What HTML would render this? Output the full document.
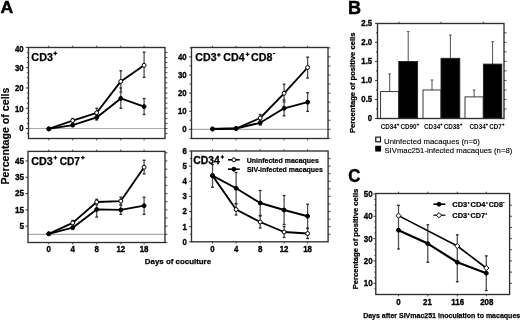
<!DOCTYPE html>
<html><head><meta charset="utf-8"><style>
html,body{margin:0;padding:0;background:#fff;width:520px;height:320px;overflow:hidden}
svg{display:block;filter:grayscale(1) blur(0.25px)}
text{font-family:"Liberation Sans", sans-serif;fill:#000}
</style></head><body>
<svg width="520" height="320" viewBox="0 0 520 320">
<rect width="520" height="320" fill="#fff"/>
<text x="0.56" y="13.25" font-size="16.9" font-weight="bold" text-anchor="start" textLength="12.72" lengthAdjust="spacingAndGlyphs" stroke="#000" stroke-width="0.45">A</text>
<text transform="translate(9.0,136.0) rotate(-90)" font-size="10.0" font-weight="bold" text-anchor="middle" textLength="97.0" stroke="#000" stroke-width="0.15" lengthAdjust="spacingAndGlyphs">Percentage of cells</text>
<line x1="28.50" y1="128.50" x2="165.00" y2="128.50" stroke="#ababab" stroke-width="1.2" />
<line x1="26.90" y1="133.57" x2="28.50" y2="133.57" stroke="#303030" stroke-width="0.9" />
<line x1="26.90" y1="123.43" x2="28.50" y2="123.43" stroke="#303030" stroke-width="0.9" />
<line x1="26.90" y1="118.36" x2="28.50" y2="118.36" stroke="#303030" stroke-width="0.9" />
<line x1="26.90" y1="113.29" x2="28.50" y2="113.29" stroke="#303030" stroke-width="0.9" />
<line x1="26.90" y1="103.16" x2="28.50" y2="103.16" stroke="#303030" stroke-width="0.9" />
<line x1="26.90" y1="98.09" x2="28.50" y2="98.09" stroke="#303030" stroke-width="0.9" />
<line x1="26.90" y1="93.02" x2="28.50" y2="93.02" stroke="#303030" stroke-width="0.9" />
<line x1="26.90" y1="82.88" x2="28.50" y2="82.88" stroke="#303030" stroke-width="0.9" />
<line x1="26.90" y1="77.81" x2="28.50" y2="77.81" stroke="#303030" stroke-width="0.9" />
<line x1="26.90" y1="72.74" x2="28.50" y2="72.74" stroke="#303030" stroke-width="0.9" />
<line x1="26.90" y1="62.61" x2="28.50" y2="62.61" stroke="#303030" stroke-width="0.9" />
<line x1="26.90" y1="57.54" x2="28.50" y2="57.54" stroke="#303030" stroke-width="0.9" />
<line x1="26.90" y1="52.47" x2="28.50" y2="52.47" stroke="#303030" stroke-width="0.9" />
<line x1="25.90" y1="128.50" x2="28.50" y2="128.50" stroke="#303030" stroke-width="1.0" />
<line x1="25.90" y1="108.22" x2="28.50" y2="108.22" stroke="#303030" stroke-width="1.0" />
<line x1="25.90" y1="87.95" x2="28.50" y2="87.95" stroke="#303030" stroke-width="1.0" />
<line x1="25.90" y1="67.68" x2="28.50" y2="67.68" stroke="#303030" stroke-width="1.0" />
<line x1="25.90" y1="47.40" x2="28.50" y2="47.40" stroke="#303030" stroke-width="1.0" />
<line x1="165.00" y1="133.57" x2="167.40" y2="133.57" stroke="#303030" stroke-width="0.9" />
<line x1="165.00" y1="128.50" x2="167.40" y2="128.50" stroke="#303030" stroke-width="0.9" />
<line x1="165.00" y1="123.43" x2="167.40" y2="123.43" stroke="#303030" stroke-width="0.9" />
<line x1="165.00" y1="118.36" x2="167.40" y2="118.36" stroke="#303030" stroke-width="0.9" />
<line x1="165.00" y1="113.29" x2="167.40" y2="113.29" stroke="#303030" stroke-width="0.9" />
<line x1="165.00" y1="108.22" x2="167.40" y2="108.22" stroke="#303030" stroke-width="0.9" />
<line x1="165.00" y1="103.16" x2="167.40" y2="103.16" stroke="#303030" stroke-width="0.9" />
<line x1="165.00" y1="98.09" x2="167.40" y2="98.09" stroke="#303030" stroke-width="0.9" />
<line x1="165.00" y1="93.02" x2="167.40" y2="93.02" stroke="#303030" stroke-width="0.9" />
<line x1="165.00" y1="87.95" x2="167.40" y2="87.95" stroke="#303030" stroke-width="0.9" />
<line x1="165.00" y1="82.88" x2="167.40" y2="82.88" stroke="#303030" stroke-width="0.9" />
<line x1="165.00" y1="77.81" x2="167.40" y2="77.81" stroke="#303030" stroke-width="0.9" />
<line x1="165.00" y1="72.74" x2="167.40" y2="72.74" stroke="#303030" stroke-width="0.9" />
<line x1="165.00" y1="67.68" x2="167.40" y2="67.68" stroke="#303030" stroke-width="0.9" />
<line x1="165.00" y1="62.61" x2="167.40" y2="62.61" stroke="#303030" stroke-width="0.9" />
<line x1="165.00" y1="57.54" x2="167.40" y2="57.54" stroke="#303030" stroke-width="0.9" />
<line x1="165.00" y1="52.47" x2="167.40" y2="52.47" stroke="#303030" stroke-width="0.9" />
<line x1="48.80" y1="45.70" x2="48.80" y2="47.50" stroke="#303030" stroke-width="0.9" />
<line x1="48.80" y1="138.50" x2="48.80" y2="140.30" stroke="#303030" stroke-width="0.9" />
<line x1="72.70" y1="45.70" x2="72.70" y2="47.50" stroke="#303030" stroke-width="0.9" />
<line x1="72.70" y1="138.50" x2="72.70" y2="140.30" stroke="#303030" stroke-width="0.9" />
<line x1="96.70" y1="45.70" x2="96.70" y2="47.50" stroke="#303030" stroke-width="0.9" />
<line x1="96.70" y1="138.50" x2="96.70" y2="140.30" stroke="#303030" stroke-width="0.9" />
<line x1="120.80" y1="45.70" x2="120.80" y2="47.50" stroke="#303030" stroke-width="0.9" />
<line x1="120.80" y1="138.50" x2="120.80" y2="140.30" stroke="#303030" stroke-width="0.9" />
<line x1="144.10" y1="45.70" x2="144.10" y2="47.50" stroke="#303030" stroke-width="0.9" />
<line x1="144.10" y1="138.50" x2="144.10" y2="140.30" stroke="#303030" stroke-width="0.9" />
<text transform="translate(23.70,51.90) scale(1,1.16)" font-size="7.8" font-weight="bold" text-anchor="end" stroke="#000" stroke-width="0.3">40</text>
<text transform="translate(23.70,71.30) scale(1,1.16)" font-size="7.8" font-weight="bold" text-anchor="end" stroke="#000" stroke-width="0.3">30</text>
<text transform="translate(23.70,91.30) scale(1,1.16)" font-size="7.8" font-weight="bold" text-anchor="end" stroke="#000" stroke-width="0.3">20</text>
<text transform="translate(23.70,111.50) scale(1,1.16)" font-size="7.8" font-weight="bold" text-anchor="end" stroke="#000" stroke-width="0.3">10</text>
<text transform="translate(23.70,131.30) scale(1,1.16)" font-size="7.8" font-weight="bold" text-anchor="end" stroke="#000" stroke-width="0.3">0</text>
<line x1="72.70" y1="118.50" x2="72.70" y2="126.50" stroke="#505050" stroke-width="1.3" />
<line x1="71.30" y1="118.50" x2="74.10" y2="118.50" stroke="#2a2a2a" stroke-width="1.3" />
<line x1="71.30" y1="126.50" x2="74.10" y2="126.50" stroke="#2a2a2a" stroke-width="1.3" />
<line x1="96.70" y1="108.30" x2="96.70" y2="116.50" stroke="#505050" stroke-width="1.3" />
<line x1="95.30" y1="108.30" x2="98.10" y2="108.30" stroke="#2a2a2a" stroke-width="1.3" />
<line x1="95.30" y1="116.50" x2="98.10" y2="116.50" stroke="#2a2a2a" stroke-width="1.3" />
<line x1="96.70" y1="114.50" x2="96.70" y2="120.00" stroke="#505050" stroke-width="1.3" />
<line x1="95.30" y1="114.50" x2="98.10" y2="114.50" stroke="#2a2a2a" stroke-width="1.3" />
<line x1="95.30" y1="120.00" x2="98.10" y2="120.00" stroke="#2a2a2a" stroke-width="1.3" />
<line x1="120.80" y1="70.80" x2="120.80" y2="92.00" stroke="#505050" stroke-width="1.3" />
<line x1="119.40" y1="70.80" x2="122.20" y2="70.80" stroke="#2a2a2a" stroke-width="1.3" />
<line x1="119.40" y1="92.00" x2="122.20" y2="92.00" stroke="#2a2a2a" stroke-width="1.3" />
<line x1="120.80" y1="88.00" x2="120.80" y2="108.30" stroke="#505050" stroke-width="1.3" />
<line x1="119.40" y1="88.00" x2="122.20" y2="88.00" stroke="#2a2a2a" stroke-width="1.3" />
<line x1="119.40" y1="108.30" x2="122.20" y2="108.30" stroke="#2a2a2a" stroke-width="1.3" />
<line x1="144.10" y1="52.20" x2="144.10" y2="77.40" stroke="#505050" stroke-width="1.3" />
<line x1="142.70" y1="52.20" x2="145.50" y2="52.20" stroke="#2a2a2a" stroke-width="1.3" />
<line x1="142.70" y1="77.40" x2="145.50" y2="77.40" stroke="#2a2a2a" stroke-width="1.3" />
<line x1="144.10" y1="98.50" x2="144.10" y2="114.50" stroke="#505050" stroke-width="1.3" />
<line x1="142.70" y1="98.50" x2="145.50" y2="98.50" stroke="#2a2a2a" stroke-width="1.3" />
<line x1="142.70" y1="114.50" x2="145.50" y2="114.50" stroke="#2a2a2a" stroke-width="1.3" />
<polyline points="48.80,128.90 72.70,120.60 96.70,112.80 120.80,81.40 144.10,65.30" fill="none" stroke="#000" stroke-width="1.85" stroke-linejoin="round"/>
<polyline points="48.80,128.90 72.70,125.10 96.70,117.40 120.80,98.40 144.10,106.60" fill="none" stroke="#000" stroke-width="1.85" stroke-linejoin="round"/>
<circle cx="48.80" cy="128.90" r="1.95" fill="#fff" stroke="#000" stroke-width="1.0"/>
<circle cx="72.70" cy="120.60" r="1.95" fill="#fff" stroke="#000" stroke-width="1.0"/>
<circle cx="96.70" cy="112.80" r="1.95" fill="#fff" stroke="#000" stroke-width="1.0"/>
<circle cx="120.80" cy="81.40" r="1.95" fill="#fff" stroke="#000" stroke-width="1.0"/>
<circle cx="144.10" cy="65.30" r="1.95" fill="#fff" stroke="#000" stroke-width="1.0"/>
<circle cx="48.80" cy="128.90" r="1.95" fill="#000" stroke="#000" stroke-width="1.0"/>
<circle cx="72.70" cy="125.10" r="1.95" fill="#000" stroke="#000" stroke-width="1.0"/>
<circle cx="96.70" cy="117.40" r="1.95" fill="#000" stroke="#000" stroke-width="1.0"/>
<circle cx="120.80" cy="98.40" r="1.95" fill="#000" stroke="#000" stroke-width="1.0"/>
<circle cx="144.10" cy="106.60" r="1.95" fill="#000" stroke="#000" stroke-width="1.0"/>
<rect x="28.50" y="47.50" width="136.50" height="91.00" fill="none" stroke="#303030" stroke-width="1.35"/>
<text x="31.37" y="60.50" font-size="10.3" font-weight="bold" text-anchor="start" textLength="21.62" lengthAdjust="spacingAndGlyphs" stroke="#000" stroke-width="0.25">CD3</text>
<line x1="53.40" y1="53.40" x2="57.20" y2="53.40" stroke="#000" stroke-width="1.3" />
<line x1="55.30" y1="51.50" x2="55.30" y2="55.30" stroke="#000" stroke-width="1.3" />
<line x1="191.50" y1="129.30" x2="328.00" y2="129.30" stroke="#ababab" stroke-width="1.2" />
<line x1="189.50" y1="138.35" x2="191.50" y2="138.35" stroke="#303030" stroke-width="0.9" />
<line x1="189.50" y1="120.25" x2="191.50" y2="120.25" stroke="#303030" stroke-width="0.9" />
<line x1="189.50" y1="102.15" x2="191.50" y2="102.15" stroke="#303030" stroke-width="0.9" />
<line x1="189.50" y1="84.05" x2="191.50" y2="84.05" stroke="#303030" stroke-width="0.9" />
<line x1="189.50" y1="65.95" x2="191.50" y2="65.95" stroke="#303030" stroke-width="0.9" />
<line x1="189.50" y1="47.85" x2="191.50" y2="47.85" stroke="#303030" stroke-width="0.9" />
<line x1="189.10" y1="129.30" x2="191.50" y2="129.30" stroke="#303030" stroke-width="1.0" />
<line x1="189.10" y1="111.20" x2="191.50" y2="111.20" stroke="#303030" stroke-width="1.0" />
<line x1="189.10" y1="93.10" x2="191.50" y2="93.10" stroke="#303030" stroke-width="1.0" />
<line x1="189.10" y1="75.00" x2="191.50" y2="75.00" stroke="#303030" stroke-width="1.0" />
<line x1="189.10" y1="56.90" x2="191.50" y2="56.90" stroke="#303030" stroke-width="1.0" />
<line x1="328.00" y1="138.35" x2="330.40" y2="138.35" stroke="#303030" stroke-width="0.9" />
<line x1="328.00" y1="129.30" x2="330.40" y2="129.30" stroke="#303030" stroke-width="0.9" />
<line x1="328.00" y1="120.25" x2="330.40" y2="120.25" stroke="#303030" stroke-width="0.9" />
<line x1="328.00" y1="111.20" x2="330.40" y2="111.20" stroke="#303030" stroke-width="0.9" />
<line x1="328.00" y1="102.15" x2="330.40" y2="102.15" stroke="#303030" stroke-width="0.9" />
<line x1="328.00" y1="93.10" x2="330.40" y2="93.10" stroke="#303030" stroke-width="0.9" />
<line x1="328.00" y1="84.05" x2="330.40" y2="84.05" stroke="#303030" stroke-width="0.9" />
<line x1="328.00" y1="75.00" x2="330.40" y2="75.00" stroke="#303030" stroke-width="0.9" />
<line x1="328.00" y1="65.95" x2="330.40" y2="65.95" stroke="#303030" stroke-width="0.9" />
<line x1="328.00" y1="56.90" x2="330.40" y2="56.90" stroke="#303030" stroke-width="0.9" />
<line x1="328.00" y1="47.85" x2="330.40" y2="47.85" stroke="#303030" stroke-width="0.9" />
<line x1="212.50" y1="45.70" x2="212.50" y2="47.50" stroke="#303030" stroke-width="0.9" />
<line x1="212.50" y1="138.50" x2="212.50" y2="140.30" stroke="#303030" stroke-width="0.9" />
<line x1="236.10" y1="45.70" x2="236.10" y2="47.50" stroke="#303030" stroke-width="0.9" />
<line x1="236.10" y1="138.50" x2="236.10" y2="140.30" stroke="#303030" stroke-width="0.9" />
<line x1="260.20" y1="45.70" x2="260.20" y2="47.50" stroke="#303030" stroke-width="0.9" />
<line x1="260.20" y1="138.50" x2="260.20" y2="140.30" stroke="#303030" stroke-width="0.9" />
<line x1="284.10" y1="45.70" x2="284.10" y2="47.50" stroke="#303030" stroke-width="0.9" />
<line x1="284.10" y1="138.50" x2="284.10" y2="140.30" stroke="#303030" stroke-width="0.9" />
<line x1="307.60" y1="45.70" x2="307.60" y2="47.50" stroke="#303030" stroke-width="0.9" />
<line x1="307.60" y1="138.50" x2="307.60" y2="140.30" stroke="#303030" stroke-width="0.9" />
<text transform="translate(186.70,59.80) scale(1,1.16)" font-size="7.8" font-weight="bold" text-anchor="end" stroke="#000" stroke-width="0.3">40</text>
<text transform="translate(186.70,77.90) scale(1,1.16)" font-size="7.8" font-weight="bold" text-anchor="end" stroke="#000" stroke-width="0.3">30</text>
<text transform="translate(186.70,96.00) scale(1,1.16)" font-size="7.8" font-weight="bold" text-anchor="end" stroke="#000" stroke-width="0.3">20</text>
<text transform="translate(186.70,114.10) scale(1,1.16)" font-size="7.8" font-weight="bold" text-anchor="end" stroke="#000" stroke-width="0.3">10</text>
<text transform="translate(186.70,132.20) scale(1,1.16)" font-size="7.8" font-weight="bold" text-anchor="end" stroke="#000" stroke-width="0.3">0</text>
<line x1="260.20" y1="114.50" x2="260.20" y2="121.00" stroke="#505050" stroke-width="1.3" />
<line x1="258.80" y1="114.50" x2="261.60" y2="114.50" stroke="#2a2a2a" stroke-width="1.3" />
<line x1="258.80" y1="121.00" x2="261.60" y2="121.00" stroke="#2a2a2a" stroke-width="1.3" />
<line x1="260.20" y1="118.00" x2="260.20" y2="125.00" stroke="#505050" stroke-width="1.3" />
<line x1="258.80" y1="118.00" x2="261.60" y2="118.00" stroke="#2a2a2a" stroke-width="1.3" />
<line x1="258.80" y1="125.00" x2="261.60" y2="125.00" stroke="#2a2a2a" stroke-width="1.3" />
<line x1="284.10" y1="84.20" x2="284.10" y2="102.00" stroke="#505050" stroke-width="1.3" />
<line x1="282.70" y1="84.20" x2="285.50" y2="84.20" stroke="#2a2a2a" stroke-width="1.3" />
<line x1="282.70" y1="102.00" x2="285.50" y2="102.00" stroke="#2a2a2a" stroke-width="1.3" />
<line x1="284.10" y1="100.00" x2="284.10" y2="115.80" stroke="#505050" stroke-width="1.3" />
<line x1="282.70" y1="100.00" x2="285.50" y2="100.00" stroke="#2a2a2a" stroke-width="1.3" />
<line x1="282.70" y1="115.80" x2="285.50" y2="115.80" stroke="#2a2a2a" stroke-width="1.3" />
<line x1="307.60" y1="57.20" x2="307.60" y2="78.00" stroke="#505050" stroke-width="1.3" />
<line x1="306.20" y1="57.20" x2="309.00" y2="57.20" stroke="#2a2a2a" stroke-width="1.3" />
<line x1="306.20" y1="78.00" x2="309.00" y2="78.00" stroke="#2a2a2a" stroke-width="1.3" />
<line x1="307.60" y1="92.70" x2="307.60" y2="111.40" stroke="#505050" stroke-width="1.3" />
<line x1="306.20" y1="92.70" x2="309.00" y2="92.70" stroke="#2a2a2a" stroke-width="1.3" />
<line x1="306.20" y1="111.40" x2="309.00" y2="111.40" stroke="#2a2a2a" stroke-width="1.3" />
<polyline points="212.50,129.00 236.10,128.50 260.20,118.00 284.10,93.30 307.60,67.50" fill="none" stroke="#000" stroke-width="1.85" stroke-linejoin="round"/>
<polyline points="212.50,129.00 236.10,128.50 260.20,122.80 284.10,108.30 307.60,102.20" fill="none" stroke="#000" stroke-width="1.85" stroke-linejoin="round"/>
<circle cx="212.50" cy="129.00" r="1.95" fill="#fff" stroke="#000" stroke-width="1.0"/>
<circle cx="236.10" cy="128.50" r="1.95" fill="#fff" stroke="#000" stroke-width="1.0"/>
<circle cx="260.20" cy="118.00" r="1.95" fill="#fff" stroke="#000" stroke-width="1.0"/>
<circle cx="284.10" cy="93.30" r="1.95" fill="#fff" stroke="#000" stroke-width="1.0"/>
<circle cx="307.60" cy="67.50" r="1.95" fill="#fff" stroke="#000" stroke-width="1.0"/>
<circle cx="212.50" cy="129.00" r="1.95" fill="#000" stroke="#000" stroke-width="1.0"/>
<circle cx="236.10" cy="128.50" r="1.95" fill="#000" stroke="#000" stroke-width="1.0"/>
<circle cx="260.20" cy="122.80" r="1.95" fill="#000" stroke="#000" stroke-width="1.0"/>
<circle cx="284.10" cy="108.30" r="1.95" fill="#000" stroke="#000" stroke-width="1.0"/>
<circle cx="307.60" cy="102.20" r="1.95" fill="#000" stroke="#000" stroke-width="1.0"/>
<rect x="191.50" y="47.50" width="136.50" height="91.00" fill="none" stroke="#303030" stroke-width="1.35"/>
<text x="195.38" y="60.70" font-size="10.3" font-weight="bold" text-anchor="start" textLength="21.20" lengthAdjust="spacingAndGlyphs" stroke="#000" stroke-width="0.25">CD3</text>
<line x1="217.00" y1="54.90" x2="220.70" y2="54.90" stroke="#000" stroke-width="1.25" />
<line x1="218.85" y1="53.05" x2="218.85" y2="56.75" stroke="#000" stroke-width="1.25" />
<text x="223.27" y="60.70" font-size="10.3" font-weight="bold" text-anchor="start" textLength="21.39" lengthAdjust="spacingAndGlyphs" stroke="#000" stroke-width="0.25">CD4</text>
<line x1="245.65" y1="54.30" x2="249.35" y2="54.30" stroke="#000" stroke-width="1.25" />
<line x1="247.50" y1="52.45" x2="247.50" y2="56.15" stroke="#000" stroke-width="1.25" />
<text x="250.97" y="60.70" font-size="10.3" font-weight="bold" text-anchor="start" textLength="21.35" lengthAdjust="spacingAndGlyphs" stroke="#000" stroke-width="0.25">CD8</text>
<line x1="272.80" y1="53.60" x2="275.20" y2="53.60" stroke="#000" stroke-width="1.1" />
<line x1="28.00" y1="234.30" x2="165.00" y2="234.30" stroke="#ababab" stroke-width="1.2" />
<line x1="25.60" y1="226.15" x2="28.00" y2="226.15" stroke="#303030" stroke-width="1.0" />
<line x1="25.60" y1="209.85" x2="28.00" y2="209.85" stroke="#303030" stroke-width="1.0" />
<line x1="25.60" y1="193.55" x2="28.00" y2="193.55" stroke="#303030" stroke-width="1.0" />
<line x1="25.60" y1="177.25" x2="28.00" y2="177.25" stroke="#303030" stroke-width="1.0" />
<line x1="25.60" y1="160.95" x2="28.00" y2="160.95" stroke="#303030" stroke-width="1.0" />
<line x1="165.00" y1="242.45" x2="167.40" y2="242.45" stroke="#303030" stroke-width="0.9" />
<line x1="165.00" y1="234.30" x2="167.40" y2="234.30" stroke="#303030" stroke-width="0.9" />
<line x1="165.00" y1="226.15" x2="167.40" y2="226.15" stroke="#303030" stroke-width="0.9" />
<line x1="165.00" y1="218.00" x2="167.40" y2="218.00" stroke="#303030" stroke-width="0.9" />
<line x1="165.00" y1="209.85" x2="167.40" y2="209.85" stroke="#303030" stroke-width="0.9" />
<line x1="165.00" y1="201.70" x2="167.40" y2="201.70" stroke="#303030" stroke-width="0.9" />
<line x1="165.00" y1="193.55" x2="167.40" y2="193.55" stroke="#303030" stroke-width="0.9" />
<line x1="165.00" y1="185.40" x2="167.40" y2="185.40" stroke="#303030" stroke-width="0.9" />
<line x1="165.00" y1="177.25" x2="167.40" y2="177.25" stroke="#303030" stroke-width="0.9" />
<line x1="165.00" y1="169.10" x2="167.40" y2="169.10" stroke="#303030" stroke-width="0.9" />
<line x1="165.00" y1="160.95" x2="167.40" y2="160.95" stroke="#303030" stroke-width="0.9" />
<line x1="165.00" y1="152.80" x2="167.40" y2="152.80" stroke="#303030" stroke-width="0.9" />
<line x1="48.80" y1="149.60" x2="48.80" y2="151.40" stroke="#303030" stroke-width="0.9" />
<line x1="48.80" y1="242.50" x2="48.80" y2="244.30" stroke="#303030" stroke-width="0.9" />
<line x1="72.70" y1="149.60" x2="72.70" y2="151.40" stroke="#303030" stroke-width="0.9" />
<line x1="72.70" y1="242.50" x2="72.70" y2="244.30" stroke="#303030" stroke-width="0.9" />
<line x1="96.70" y1="149.60" x2="96.70" y2="151.40" stroke="#303030" stroke-width="0.9" />
<line x1="96.70" y1="242.50" x2="96.70" y2="244.30" stroke="#303030" stroke-width="0.9" />
<line x1="120.80" y1="149.60" x2="120.80" y2="151.40" stroke="#303030" stroke-width="0.9" />
<line x1="120.80" y1="242.50" x2="120.80" y2="244.30" stroke="#303030" stroke-width="0.9" />
<line x1="144.10" y1="149.60" x2="144.10" y2="151.40" stroke="#303030" stroke-width="0.9" />
<line x1="144.10" y1="242.50" x2="144.10" y2="244.30" stroke="#303030" stroke-width="0.9" />
<text transform="translate(24.00,163.85) scale(1,1.16)" font-size="8.2" font-weight="bold" text-anchor="end" stroke="#000" stroke-width="0.3">45</text>
<text transform="translate(24.00,180.15) scale(1,1.16)" font-size="8.2" font-weight="bold" text-anchor="end" stroke="#000" stroke-width="0.3">35</text>
<text transform="translate(24.00,196.45) scale(1,1.16)" font-size="8.2" font-weight="bold" text-anchor="end" stroke="#000" stroke-width="0.3">25</text>
<text transform="translate(24.00,212.75) scale(1,1.16)" font-size="8.2" font-weight="bold" text-anchor="end" stroke="#000" stroke-width="0.3">15</text>
<text transform="translate(24.00,229.05) scale(1,1.16)" font-size="8.2" font-weight="bold" text-anchor="end" stroke="#000" stroke-width="0.3">5</text>
<line x1="72.70" y1="220.50" x2="72.70" y2="226.00" stroke="#505050" stroke-width="1.3" />
<line x1="71.30" y1="220.50" x2="74.10" y2="220.50" stroke="#2a2a2a" stroke-width="1.3" />
<line x1="71.30" y1="226.00" x2="74.10" y2="226.00" stroke="#2a2a2a" stroke-width="1.3" />
<line x1="96.70" y1="199.30" x2="96.70" y2="205.00" stroke="#505050" stroke-width="1.3" />
<line x1="95.30" y1="199.30" x2="98.10" y2="199.30" stroke="#2a2a2a" stroke-width="1.3" />
<line x1="95.30" y1="205.00" x2="98.10" y2="205.00" stroke="#2a2a2a" stroke-width="1.3" />
<line x1="96.70" y1="202.00" x2="96.70" y2="217.00" stroke="#505050" stroke-width="1.3" />
<line x1="95.30" y1="202.00" x2="98.10" y2="202.00" stroke="#2a2a2a" stroke-width="1.3" />
<line x1="95.30" y1="217.00" x2="98.10" y2="217.00" stroke="#2a2a2a" stroke-width="1.3" />
<line x1="120.80" y1="197.20" x2="120.80" y2="205.00" stroke="#505050" stroke-width="1.3" />
<line x1="119.40" y1="197.20" x2="122.20" y2="197.20" stroke="#2a2a2a" stroke-width="1.3" />
<line x1="119.40" y1="205.00" x2="122.20" y2="205.00" stroke="#2a2a2a" stroke-width="1.3" />
<line x1="120.80" y1="205.00" x2="120.80" y2="214.40" stroke="#505050" stroke-width="1.3" />
<line x1="119.40" y1="205.00" x2="122.20" y2="205.00" stroke="#2a2a2a" stroke-width="1.3" />
<line x1="119.40" y1="214.40" x2="122.20" y2="214.40" stroke="#2a2a2a" stroke-width="1.3" />
<line x1="144.10" y1="160.25" x2="144.10" y2="174.00" stroke="#505050" stroke-width="1.3" />
<line x1="142.70" y1="160.25" x2="145.50" y2="160.25" stroke="#2a2a2a" stroke-width="1.3" />
<line x1="142.70" y1="174.00" x2="145.50" y2="174.00" stroke="#2a2a2a" stroke-width="1.3" />
<line x1="144.10" y1="197.20" x2="144.10" y2="214.40" stroke="#505050" stroke-width="1.3" />
<line x1="142.70" y1="197.20" x2="145.50" y2="197.20" stroke="#2a2a2a" stroke-width="1.3" />
<line x1="142.70" y1="214.40" x2="145.50" y2="214.40" stroke="#2a2a2a" stroke-width="1.3" />
<polyline points="48.80,233.80 72.70,222.90 96.70,202.00 120.80,201.10 144.10,167.25" fill="none" stroke="#000" stroke-width="1.85" stroke-linejoin="round"/>
<polyline points="48.80,233.80 72.70,227.70 96.70,209.40 120.80,209.90 144.10,205.70" fill="none" stroke="#000" stroke-width="1.85" stroke-linejoin="round"/>
<circle cx="48.80" cy="233.80" r="1.95" fill="#fff" stroke="#000" stroke-width="1.0"/>
<circle cx="72.70" cy="222.90" r="1.95" fill="#fff" stroke="#000" stroke-width="1.0"/>
<circle cx="96.70" cy="202.00" r="1.95" fill="#fff" stroke="#000" stroke-width="1.0"/>
<circle cx="120.80" cy="201.10" r="1.95" fill="#fff" stroke="#000" stroke-width="1.0"/>
<circle cx="144.10" cy="167.25" r="1.95" fill="#fff" stroke="#000" stroke-width="1.0"/>
<circle cx="48.80" cy="233.80" r="1.95" fill="#000" stroke="#000" stroke-width="1.0"/>
<circle cx="72.70" cy="227.70" r="1.95" fill="#000" stroke="#000" stroke-width="1.0"/>
<circle cx="96.70" cy="209.40" r="1.95" fill="#000" stroke="#000" stroke-width="1.0"/>
<circle cx="120.80" cy="209.90" r="1.95" fill="#000" stroke="#000" stroke-width="1.0"/>
<circle cx="144.10" cy="205.70" r="1.95" fill="#000" stroke="#000" stroke-width="1.0"/>
<rect x="28.00" y="151.40" width="137.00" height="91.10" fill="none" stroke="#303030" stroke-width="1.35"/>
<text x="31.27" y="164.50" font-size="10.3" font-weight="bold" text-anchor="start" textLength="21.62" lengthAdjust="spacingAndGlyphs" stroke="#000" stroke-width="0.25">CD3</text>
<line x1="53.55" y1="157.70" x2="57.25" y2="157.70" stroke="#000" stroke-width="1.15" />
<line x1="55.40" y1="155.85" x2="55.40" y2="159.55" stroke="#000" stroke-width="1.15" />
<text x="59.69" y="164.50" font-size="10.3" font-weight="bold" text-anchor="start" textLength="20.32" lengthAdjust="spacingAndGlyphs" stroke="#000" stroke-width="0.25">CD7</text>
<line x1="81.00" y1="157.70" x2="84.70" y2="157.70" stroke="#000" stroke-width="1.15" />
<line x1="82.85" y1="155.85" x2="82.85" y2="159.55" stroke="#000" stroke-width="1.15" />
<line x1="189.90" y1="234.24" x2="191.50" y2="234.24" stroke="#303030" stroke-width="0.9" />
<line x1="189.90" y1="219.11" x2="191.50" y2="219.11" stroke="#303030" stroke-width="0.9" />
<line x1="189.90" y1="203.98" x2="191.50" y2="203.98" stroke="#303030" stroke-width="0.9" />
<line x1="189.90" y1="188.84" x2="191.50" y2="188.84" stroke="#303030" stroke-width="0.9" />
<line x1="189.90" y1="173.72" x2="191.50" y2="173.72" stroke="#303030" stroke-width="0.9" />
<line x1="189.90" y1="158.59" x2="191.50" y2="158.59" stroke="#303030" stroke-width="0.9" />
<line x1="189.10" y1="241.80" x2="191.50" y2="241.80" stroke="#303030" stroke-width="1.0" />
<line x1="189.10" y1="226.67" x2="191.50" y2="226.67" stroke="#303030" stroke-width="1.0" />
<line x1="189.10" y1="211.54" x2="191.50" y2="211.54" stroke="#303030" stroke-width="1.0" />
<line x1="189.10" y1="196.41" x2="191.50" y2="196.41" stroke="#303030" stroke-width="1.0" />
<line x1="189.10" y1="181.28" x2="191.50" y2="181.28" stroke="#303030" stroke-width="1.0" />
<line x1="189.10" y1="166.15" x2="191.50" y2="166.15" stroke="#303030" stroke-width="1.0" />
<line x1="189.10" y1="151.02" x2="191.50" y2="151.02" stroke="#303030" stroke-width="1.0" />
<line x1="328.10" y1="234.24" x2="330.50" y2="234.24" stroke="#303030" stroke-width="0.9" />
<line x1="328.10" y1="226.67" x2="330.50" y2="226.67" stroke="#303030" stroke-width="0.9" />
<line x1="328.10" y1="219.11" x2="330.50" y2="219.11" stroke="#303030" stroke-width="0.9" />
<line x1="328.10" y1="211.54" x2="330.50" y2="211.54" stroke="#303030" stroke-width="0.9" />
<line x1="328.10" y1="203.98" x2="330.50" y2="203.98" stroke="#303030" stroke-width="0.9" />
<line x1="328.10" y1="196.41" x2="330.50" y2="196.41" stroke="#303030" stroke-width="0.9" />
<line x1="328.10" y1="188.84" x2="330.50" y2="188.84" stroke="#303030" stroke-width="0.9" />
<line x1="328.10" y1="181.28" x2="330.50" y2="181.28" stroke="#303030" stroke-width="0.9" />
<line x1="328.10" y1="173.72" x2="330.50" y2="173.72" stroke="#303030" stroke-width="0.9" />
<line x1="328.10" y1="166.15" x2="330.50" y2="166.15" stroke="#303030" stroke-width="0.9" />
<line x1="328.10" y1="158.59" x2="330.50" y2="158.59" stroke="#303030" stroke-width="0.9" />
<line x1="212.50" y1="149.20" x2="212.50" y2="151.00" stroke="#303030" stroke-width="0.9" />
<line x1="212.50" y1="241.80" x2="212.50" y2="243.60" stroke="#303030" stroke-width="0.9" />
<line x1="236.10" y1="149.20" x2="236.10" y2="151.00" stroke="#303030" stroke-width="0.9" />
<line x1="236.10" y1="241.80" x2="236.10" y2="243.60" stroke="#303030" stroke-width="0.9" />
<line x1="260.20" y1="149.20" x2="260.20" y2="151.00" stroke="#303030" stroke-width="0.9" />
<line x1="260.20" y1="241.80" x2="260.20" y2="243.60" stroke="#303030" stroke-width="0.9" />
<line x1="284.10" y1="149.20" x2="284.10" y2="151.00" stroke="#303030" stroke-width="0.9" />
<line x1="284.10" y1="241.80" x2="284.10" y2="243.60" stroke="#303030" stroke-width="0.9" />
<line x1="307.60" y1="149.20" x2="307.60" y2="151.00" stroke="#303030" stroke-width="0.9" />
<line x1="307.60" y1="241.80" x2="307.60" y2="243.60" stroke="#303030" stroke-width="0.9" />
<text transform="translate(186.90,153.92) scale(1,1.16)" font-size="7.8" font-weight="bold" text-anchor="end" stroke="#000" stroke-width="0.3">6</text>
<text transform="translate(186.90,169.05) scale(1,1.16)" font-size="7.8" font-weight="bold" text-anchor="end" stroke="#000" stroke-width="0.3">5</text>
<text transform="translate(186.90,184.18) scale(1,1.16)" font-size="7.8" font-weight="bold" text-anchor="end" stroke="#000" stroke-width="0.3">4</text>
<text transform="translate(186.90,199.31) scale(1,1.16)" font-size="7.8" font-weight="bold" text-anchor="end" stroke="#000" stroke-width="0.3">3</text>
<text transform="translate(186.90,214.44) scale(1,1.16)" font-size="7.8" font-weight="bold" text-anchor="end" stroke="#000" stroke-width="0.3">2</text>
<text transform="translate(186.90,229.57) scale(1,1.16)" font-size="7.8" font-weight="bold" text-anchor="end" stroke="#000" stroke-width="0.3">1</text>
<text transform="translate(186.90,244.70) scale(1,1.16)" font-size="7.8" font-weight="bold" text-anchor="end" stroke="#000" stroke-width="0.3">0</text>
<line x1="212.50" y1="164.50" x2="212.50" y2="187.20" stroke="#505050" stroke-width="1.3" />
<line x1="211.10" y1="164.50" x2="213.90" y2="164.50" stroke="#2a2a2a" stroke-width="1.3" />
<line x1="211.10" y1="187.20" x2="213.90" y2="187.20" stroke="#2a2a2a" stroke-width="1.3" />
<line x1="236.10" y1="172.50" x2="236.10" y2="204.00" stroke="#505050" stroke-width="1.3" />
<line x1="234.70" y1="172.50" x2="237.50" y2="172.50" stroke="#2a2a2a" stroke-width="1.3" />
<line x1="234.70" y1="204.00" x2="237.50" y2="204.00" stroke="#2a2a2a" stroke-width="1.3" />
<line x1="236.10" y1="203.50" x2="236.10" y2="215.00" stroke="#505050" stroke-width="1.3" />
<line x1="234.70" y1="203.50" x2="237.50" y2="203.50" stroke="#2a2a2a" stroke-width="1.3" />
<line x1="234.70" y1="215.00" x2="237.50" y2="215.00" stroke="#2a2a2a" stroke-width="1.3" />
<line x1="260.20" y1="190.50" x2="260.20" y2="215.50" stroke="#505050" stroke-width="1.3" />
<line x1="258.80" y1="190.50" x2="261.60" y2="190.50" stroke="#2a2a2a" stroke-width="1.3" />
<line x1="258.80" y1="215.50" x2="261.60" y2="215.50" stroke="#2a2a2a" stroke-width="1.3" />
<line x1="260.20" y1="216.00" x2="260.20" y2="228.00" stroke="#505050" stroke-width="1.3" />
<line x1="258.80" y1="216.00" x2="261.60" y2="216.00" stroke="#2a2a2a" stroke-width="1.3" />
<line x1="258.80" y1="228.00" x2="261.60" y2="228.00" stroke="#2a2a2a" stroke-width="1.3" />
<line x1="284.10" y1="195.50" x2="284.10" y2="224.50" stroke="#505050" stroke-width="1.3" />
<line x1="282.70" y1="195.50" x2="285.50" y2="195.50" stroke="#2a2a2a" stroke-width="1.3" />
<line x1="282.70" y1="224.50" x2="285.50" y2="224.50" stroke="#2a2a2a" stroke-width="1.3" />
<line x1="284.10" y1="226.50" x2="284.10" y2="237.50" stroke="#505050" stroke-width="1.3" />
<line x1="282.70" y1="226.50" x2="285.50" y2="226.50" stroke="#2a2a2a" stroke-width="1.3" />
<line x1="282.70" y1="237.50" x2="285.50" y2="237.50" stroke="#2a2a2a" stroke-width="1.3" />
<line x1="307.60" y1="204.25" x2="307.60" y2="228.25" stroke="#505050" stroke-width="1.3" />
<line x1="306.20" y1="204.25" x2="309.00" y2="204.25" stroke="#2a2a2a" stroke-width="1.3" />
<line x1="306.20" y1="228.25" x2="309.00" y2="228.25" stroke="#2a2a2a" stroke-width="1.3" />
<line x1="307.60" y1="228.50" x2="307.60" y2="238.50" stroke="#505050" stroke-width="1.3" />
<line x1="306.20" y1="228.50" x2="309.00" y2="228.50" stroke="#2a2a2a" stroke-width="1.3" />
<line x1="306.20" y1="238.50" x2="309.00" y2="238.50" stroke="#2a2a2a" stroke-width="1.3" />
<polyline points="212.50,175.60 236.10,209.50 260.20,222.00 284.10,232.00 307.60,233.50" fill="none" stroke="#000" stroke-width="1.85" stroke-linejoin="round"/>
<polyline points="212.50,175.60 236.10,188.25 260.20,203.00 284.10,210.00 307.60,216.25" fill="none" stroke="#000" stroke-width="1.85" stroke-linejoin="round"/>
<circle cx="212.50" cy="175.60" r="1.95" fill="#fff" stroke="#000" stroke-width="1.0"/>
<circle cx="236.10" cy="209.50" r="1.95" fill="#fff" stroke="#000" stroke-width="1.0"/>
<circle cx="260.20" cy="222.00" r="1.95" fill="#fff" stroke="#000" stroke-width="1.0"/>
<circle cx="284.10" cy="232.00" r="1.95" fill="#fff" stroke="#000" stroke-width="1.0"/>
<circle cx="307.60" cy="233.50" r="1.95" fill="#fff" stroke="#000" stroke-width="1.0"/>
<circle cx="212.50" cy="175.60" r="1.95" fill="#000" stroke="#000" stroke-width="1.0"/>
<circle cx="236.10" cy="188.25" r="1.95" fill="#000" stroke="#000" stroke-width="1.0"/>
<circle cx="260.20" cy="203.00" r="1.95" fill="#000" stroke="#000" stroke-width="1.0"/>
<circle cx="284.10" cy="210.00" r="1.95" fill="#000" stroke="#000" stroke-width="1.0"/>
<circle cx="307.60" cy="216.25" r="1.95" fill="#000" stroke="#000" stroke-width="1.0"/>
<rect x="191.50" y="151.00" width="136.60" height="90.80" fill="none" stroke="#303030" stroke-width="1.35"/>
<text x="193.18" y="164.30" font-size="10.2" font-weight="bold" text-anchor="start" textLength="26.59" lengthAdjust="spacingAndGlyphs" stroke="#000" stroke-width="0.3">CD34</text>
<line x1="220.70" y1="157.00" x2="224.10" y2="157.00" stroke="#000" stroke-width="1.2" />
<line x1="222.40" y1="155.30" x2="222.40" y2="158.70" stroke="#000" stroke-width="1.2" />
<line x1="228.00" y1="159.80" x2="239.70" y2="159.80" stroke="#000" stroke-width="1.6" />
<circle cx="233.90" cy="159.80" r="1.95" fill="#fff" stroke="#000" stroke-width="1.0"/>
<line x1="228.00" y1="169.20" x2="239.70" y2="169.20" stroke="#000" stroke-width="1.6" />
<circle cx="233.90" cy="169.20" r="1.95" fill="#000" stroke="#000" stroke-width="1.0"/>
<text x="246.68" y="162.90" font-size="7.3" font-weight="bold" text-anchor="start" textLength="72.21" lengthAdjust="spacingAndGlyphs" stroke="#000" stroke-width="0.22">Uninfected macaques</text>
<text x="246.89" y="172.00" font-size="7.3" font-weight="bold" text-anchor="start" textLength="76.01" lengthAdjust="spacingAndGlyphs" stroke="#000" stroke-width="0.22">SIV-infected macaques</text>
<text transform="translate(48.80,252.10) scale(1,1.16)" font-size="7.9" font-weight="bold" text-anchor="middle" stroke="#000" stroke-width="0.3">0</text>
<text transform="translate(72.70,252.10) scale(1,1.16)" font-size="7.9" font-weight="bold" text-anchor="middle" stroke="#000" stroke-width="0.3">4</text>
<text transform="translate(96.70,252.10) scale(1,1.16)" font-size="7.9" font-weight="bold" text-anchor="middle" stroke="#000" stroke-width="0.3">8</text>
<text transform="translate(120.80,252.10) scale(1,1.16)" font-size="7.9" font-weight="bold" text-anchor="middle" stroke="#000" stroke-width="0.3">12</text>
<text transform="translate(144.10,252.10) scale(1,1.16)" font-size="7.9" font-weight="bold" text-anchor="middle" stroke="#000" stroke-width="0.3">18</text>
<text transform="translate(212.50,252.10) scale(1,1.16)" font-size="7.9" font-weight="bold" text-anchor="middle" stroke="#000" stroke-width="0.3">0</text>
<text transform="translate(236.10,252.10) scale(1,1.16)" font-size="7.9" font-weight="bold" text-anchor="middle" stroke="#000" stroke-width="0.3">4</text>
<text transform="translate(260.20,252.10) scale(1,1.16)" font-size="7.9" font-weight="bold" text-anchor="middle" stroke="#000" stroke-width="0.3">8</text>
<text transform="translate(284.10,252.10) scale(1,1.16)" font-size="7.9" font-weight="bold" text-anchor="middle" stroke="#000" stroke-width="0.3">12</text>
<text transform="translate(307.60,252.10) scale(1,1.16)" font-size="7.9" font-weight="bold" text-anchor="middle" stroke="#000" stroke-width="0.3">18</text>
<text x="144.89" y="263.60" font-size="7.6" font-weight="bold" text-anchor="start" textLength="66.20" lengthAdjust="spacingAndGlyphs" stroke="#000" stroke-width="0.25">Days of coculture</text>
<text x="347.93" y="13.70" font-size="17.9" font-weight="bold" text-anchor="start" textLength="13.02" lengthAdjust="spacingAndGlyphs" stroke="#000" stroke-width="0.45">B</text>
<text transform="translate(355.3,82.8) rotate(-90)" font-size="7.4" font-weight="bold" text-anchor="middle" textLength="100.5" lengthAdjust="spacingAndGlyphs" stroke="#000" stroke-width="0.25">Percentage of positive cells</text>
<line x1="376.00" y1="108.98" x2="377.50" y2="108.98" stroke="#303030" stroke-width="0.9" />
<line x1="376.00" y1="89.94" x2="377.50" y2="89.94" stroke="#303030" stroke-width="0.9" />
<line x1="376.00" y1="70.90" x2="377.50" y2="70.90" stroke="#303030" stroke-width="0.9" />
<line x1="376.00" y1="51.86" x2="377.50" y2="51.86" stroke="#303030" stroke-width="0.9" />
<line x1="376.00" y1="32.82" x2="377.50" y2="32.82" stroke="#303030" stroke-width="0.9" />
<line x1="375.10" y1="118.50" x2="377.50" y2="118.50" stroke="#303030" stroke-width="1.0" />
<line x1="375.10" y1="99.46" x2="377.50" y2="99.46" stroke="#303030" stroke-width="1.0" />
<line x1="375.10" y1="80.42" x2="377.50" y2="80.42" stroke="#303030" stroke-width="1.0" />
<line x1="375.10" y1="61.38" x2="377.50" y2="61.38" stroke="#303030" stroke-width="1.0" />
<line x1="375.10" y1="42.34" x2="377.50" y2="42.34" stroke="#303030" stroke-width="1.0" />
<line x1="375.10" y1="23.30" x2="377.50" y2="23.30" stroke="#303030" stroke-width="1.0" />
<line x1="504.00" y1="108.98" x2="506.40" y2="108.98" stroke="#303030" stroke-width="0.9" />
<line x1="504.00" y1="99.46" x2="506.40" y2="99.46" stroke="#303030" stroke-width="0.9" />
<line x1="504.00" y1="89.94" x2="506.40" y2="89.94" stroke="#303030" stroke-width="0.9" />
<line x1="504.00" y1="80.42" x2="506.40" y2="80.42" stroke="#303030" stroke-width="0.9" />
<line x1="504.00" y1="70.90" x2="506.40" y2="70.90" stroke="#303030" stroke-width="0.9" />
<line x1="504.00" y1="61.38" x2="506.40" y2="61.38" stroke="#303030" stroke-width="0.9" />
<line x1="504.00" y1="51.86" x2="506.40" y2="51.86" stroke="#303030" stroke-width="0.9" />
<line x1="504.00" y1="42.34" x2="506.40" y2="42.34" stroke="#303030" stroke-width="0.9" />
<line x1="504.00" y1="32.82" x2="506.40" y2="32.82" stroke="#303030" stroke-width="0.9" />
<text transform="translate(372.20,121.40) scale(1,1.16)" font-size="7.8" font-weight="bold" text-anchor="end" stroke="#000" stroke-width="0.3">0</text>
<text transform="translate(372.20,102.36) scale(1,1.16)" font-size="7.8" font-weight="bold" text-anchor="end" stroke="#000" stroke-width="0.3">0.5</text>
<text transform="translate(372.20,83.32) scale(1,1.16)" font-size="7.8" font-weight="bold" text-anchor="end" stroke="#000" stroke-width="0.3">1.0</text>
<text transform="translate(372.20,64.28) scale(1,1.16)" font-size="7.8" font-weight="bold" text-anchor="end" stroke="#000" stroke-width="0.3">1.5</text>
<text transform="translate(372.20,45.24) scale(1,1.16)" font-size="7.8" font-weight="bold" text-anchor="end" stroke="#000" stroke-width="0.3">2.0</text>
<text transform="translate(372.20,26.20) scale(1,1.16)" font-size="7.8" font-weight="bold" text-anchor="end" stroke="#000" stroke-width="0.3">2.5</text>
<line x1="398.90" y1="21.70" x2="398.90" y2="23.50" stroke="#303030" stroke-width="0.9" />
<line x1="441.00" y1="21.70" x2="441.00" y2="23.50" stroke="#303030" stroke-width="0.9" />
<line x1="483.20" y1="21.70" x2="483.20" y2="23.50" stroke="#303030" stroke-width="0.9" />
<line x1="389.70" y1="73.90" x2="389.70" y2="91.60" stroke="#505050" stroke-width="1.0" />
<line x1="388.40" y1="73.90" x2="391.00" y2="73.90" stroke="#505050" stroke-width="1.0" />
<rect x="380.60" y="91.60" width="18.20" height="26.90" fill="#fff" stroke="#222" stroke-width="0.9"/>
<line x1="408.20" y1="31.60" x2="408.20" y2="61.50" stroke="#505050" stroke-width="1.0" />
<line x1="406.90" y1="31.60" x2="409.50" y2="31.60" stroke="#505050" stroke-width="1.0" />
<rect x="398.80" y="61.50" width="18.80" height="57.00" fill="#000" stroke="#222" stroke-width="0.9"/>
<line x1="432.00" y1="80.00" x2="432.00" y2="90.00" stroke="#505050" stroke-width="1.0" />
<line x1="430.70" y1="80.00" x2="433.30" y2="80.00" stroke="#505050" stroke-width="1.0" />
<rect x="423.00" y="90.00" width="18.00" height="28.50" fill="#fff" stroke="#222" stroke-width="0.9"/>
<line x1="450.40" y1="35.00" x2="450.40" y2="58.30" stroke="#505050" stroke-width="1.0" />
<line x1="449.10" y1="35.00" x2="451.70" y2="35.00" stroke="#505050" stroke-width="1.0" />
<rect x="441.00" y="58.30" width="18.80" height="60.20" fill="#000" stroke="#222" stroke-width="0.9"/>
<line x1="474.10" y1="90.00" x2="474.10" y2="96.90" stroke="#505050" stroke-width="1.0" />
<line x1="472.80" y1="90.00" x2="475.40" y2="90.00" stroke="#505050" stroke-width="1.0" />
<rect x="465.00" y="96.90" width="18.20" height="21.60" fill="#fff" stroke="#222" stroke-width="0.9"/>
<line x1="492.60" y1="41.70" x2="492.60" y2="64.10" stroke="#505050" stroke-width="1.0" />
<line x1="491.30" y1="41.70" x2="493.90" y2="41.70" stroke="#505050" stroke-width="1.0" />
<rect x="483.40" y="64.10" width="18.40" height="54.40" fill="#000" stroke="#222" stroke-width="0.9"/>
<rect x="377.50" y="23.50" width="126.50" height="95.00" fill="none" stroke="#303030" stroke-width="1.35"/>
<text x="380.65" y="128.80" font-size="6.3" font-weight="bold" text-anchor="start" >CD34</text>
<line x1="396.90" y1="124.60" x2="399.10" y2="124.60" stroke="#000" stroke-width="0.8" />
<line x1="398.00" y1="123.50" x2="398.00" y2="125.70" stroke="#000" stroke-width="0.8" />
<text x="400.45" y="128.80" font-size="6.3" font-weight="bold" text-anchor="start" >CD90</text>
<line x1="416.80" y1="124.60" x2="419.00" y2="124.60" stroke="#000" stroke-width="0.8" />
<line x1="417.90" y1="123.50" x2="417.90" y2="125.70" stroke="#000" stroke-width="0.8" />
<text x="424.05" y="128.80" font-size="6.3" font-weight="bold" text-anchor="start" >CD34</text>
<line x1="440.30" y1="124.60" x2="442.50" y2="124.60" stroke="#000" stroke-width="0.8" />
<line x1="441.40" y1="123.50" x2="441.40" y2="125.70" stroke="#000" stroke-width="0.8" />
<text x="443.75" y="128.80" font-size="6.3" font-weight="bold" text-anchor="start" >CD38</text>
<line x1="460.10" y1="124.60" x2="462.30" y2="124.60" stroke="#000" stroke-width="0.8" />
<line x1="461.20" y1="123.50" x2="461.20" y2="125.70" stroke="#000" stroke-width="0.8" />
<text x="469.55" y="128.80" font-size="6.3" font-weight="bold" text-anchor="start" >CD34</text>
<line x1="485.80" y1="124.60" x2="488.00" y2="124.60" stroke="#000" stroke-width="0.8" />
<line x1="486.90" y1="123.50" x2="486.90" y2="125.70" stroke="#000" stroke-width="0.8" />
<text x="489.25" y="128.80" font-size="6.3" font-weight="bold" text-anchor="start" >CD7</text>
<line x1="502.20" y1="124.60" x2="504.40" y2="124.60" stroke="#000" stroke-width="0.8" />
<line x1="503.30" y1="123.50" x2="503.30" y2="125.70" stroke="#000" stroke-width="0.8" />
<rect x="375.8" y="137.1" width="4.7" height="4.7" fill="#fff" stroke="#000" stroke-width="1.1"/>
<rect x="375.8" y="146.3" width="4.7" height="4.7" fill="#000" stroke="#000" stroke-width="1.1"/>
<text x="384.12" y="143.50" font-size="8.0" font-weight="normal" text-anchor="start" textLength="95.77" lengthAdjust="spacingAndGlyphs" stroke="#000" stroke-width="0.12">Uninfected macaques (n=6)</text>
<text x="384.45" y="152.70" font-size="8.0" font-weight="normal" text-anchor="start" textLength="127.83" lengthAdjust="spacingAndGlyphs" stroke="#000" stroke-width="0.12">SIVmac251-infected macaques (n=8)</text>
<text x="348.33" y="181.80" font-size="17.6" font-weight="bold" text-anchor="start" textLength="12.13" lengthAdjust="spacingAndGlyphs" stroke="#000" stroke-width="0.45">C</text>
<text transform="translate(358.4,239.0) rotate(-90)" font-size="7.4" font-weight="bold" text-anchor="middle" textLength="100.5" lengthAdjust="spacingAndGlyphs" stroke="#000" stroke-width="0.25">Percentage of positive cells</text>
<line x1="374.30" y1="288.85" x2="375.80" y2="288.85" stroke="#303030" stroke-width="0.9" />
<line x1="374.30" y1="277.69" x2="375.80" y2="277.69" stroke="#303030" stroke-width="0.9" />
<line x1="374.30" y1="272.11" x2="375.80" y2="272.11" stroke="#303030" stroke-width="0.9" />
<line x1="374.30" y1="266.52" x2="375.80" y2="266.52" stroke="#303030" stroke-width="0.9" />
<line x1="374.30" y1="255.36" x2="375.80" y2="255.36" stroke="#303030" stroke-width="0.9" />
<line x1="374.30" y1="249.78" x2="375.80" y2="249.78" stroke="#303030" stroke-width="0.9" />
<line x1="374.30" y1="244.19" x2="375.80" y2="244.19" stroke="#303030" stroke-width="0.9" />
<line x1="374.30" y1="233.03" x2="375.80" y2="233.03" stroke="#303030" stroke-width="0.9" />
<line x1="374.30" y1="227.45" x2="375.80" y2="227.45" stroke="#303030" stroke-width="0.9" />
<line x1="374.30" y1="221.86" x2="375.80" y2="221.86" stroke="#303030" stroke-width="0.9" />
<line x1="374.30" y1="210.70" x2="375.80" y2="210.70" stroke="#303030" stroke-width="0.9" />
<line x1="374.30" y1="205.12" x2="375.80" y2="205.12" stroke="#303030" stroke-width="0.9" />
<line x1="374.30" y1="199.53" x2="375.80" y2="199.53" stroke="#303030" stroke-width="0.9" />
<line x1="373.40" y1="283.27" x2="375.80" y2="283.27" stroke="#303030" stroke-width="1.0" />
<line x1="373.40" y1="260.94" x2="375.80" y2="260.94" stroke="#303030" stroke-width="1.0" />
<line x1="373.40" y1="238.61" x2="375.80" y2="238.61" stroke="#303030" stroke-width="1.0" />
<line x1="373.40" y1="216.28" x2="375.80" y2="216.28" stroke="#303030" stroke-width="1.0" />
<line x1="373.40" y1="193.95" x2="375.80" y2="193.95" stroke="#303030" stroke-width="1.0" />
<text transform="translate(372.60,196.85) scale(1,1.16)" font-size="7.9" font-weight="bold" text-anchor="end" stroke="#000" stroke-width="0.3">50</text>
<text transform="translate(372.60,219.18) scale(1,1.16)" font-size="7.9" font-weight="bold" text-anchor="end" stroke="#000" stroke-width="0.3">40</text>
<text transform="translate(372.60,241.51) scale(1,1.16)" font-size="7.9" font-weight="bold" text-anchor="end" stroke="#000" stroke-width="0.3">30</text>
<text transform="translate(372.60,263.84) scale(1,1.16)" font-size="7.9" font-weight="bold" text-anchor="end" stroke="#000" stroke-width="0.3">20</text>
<text transform="translate(372.60,286.17) scale(1,1.16)" font-size="7.9" font-weight="bold" text-anchor="end" stroke="#000" stroke-width="0.3">10</text>
<line x1="509.60" y1="283.27" x2="512.00" y2="283.27" stroke="#303030" stroke-width="0.9" />
<line x1="509.60" y1="272.11" x2="512.00" y2="272.11" stroke="#303030" stroke-width="0.9" />
<line x1="509.60" y1="260.94" x2="512.00" y2="260.94" stroke="#303030" stroke-width="0.9" />
<line x1="509.60" y1="249.78" x2="512.00" y2="249.78" stroke="#303030" stroke-width="0.9" />
<line x1="509.60" y1="238.61" x2="512.00" y2="238.61" stroke="#303030" stroke-width="0.9" />
<line x1="509.60" y1="227.45" x2="512.00" y2="227.45" stroke="#303030" stroke-width="0.9" />
<line x1="509.60" y1="216.28" x2="512.00" y2="216.28" stroke="#303030" stroke-width="0.9" />
<line x1="509.60" y1="205.12" x2="512.00" y2="205.12" stroke="#303030" stroke-width="0.9" />
<line x1="398.50" y1="191.70" x2="398.50" y2="193.50" stroke="#303030" stroke-width="0.9" />
<line x1="398.50" y1="294.50" x2="398.50" y2="296.30" stroke="#303030" stroke-width="0.9" />
<line x1="427.80" y1="191.70" x2="427.80" y2="193.50" stroke="#303030" stroke-width="0.9" />
<line x1="427.80" y1="294.50" x2="427.80" y2="296.30" stroke="#303030" stroke-width="0.9" />
<line x1="457.30" y1="191.70" x2="457.30" y2="193.50" stroke="#303030" stroke-width="0.9" />
<line x1="457.30" y1="294.50" x2="457.30" y2="296.30" stroke="#303030" stroke-width="0.9" />
<line x1="486.30" y1="191.70" x2="486.30" y2="193.50" stroke="#303030" stroke-width="0.9" />
<line x1="486.30" y1="294.50" x2="486.30" y2="296.30" stroke="#303030" stroke-width="0.9" />
<line x1="398.50" y1="205.30" x2="398.50" y2="249.00" stroke="#505050" stroke-width="1.3" />
<line x1="397.10" y1="205.30" x2="399.90" y2="205.30" stroke="#2a2a2a" stroke-width="1.3" />
<line x1="397.10" y1="249.00" x2="399.90" y2="249.00" stroke="#2a2a2a" stroke-width="1.3" />
<line x1="427.80" y1="224.80" x2="427.80" y2="262.20" stroke="#505050" stroke-width="1.3" />
<line x1="426.40" y1="224.80" x2="429.20" y2="224.80" stroke="#2a2a2a" stroke-width="1.3" />
<line x1="426.40" y1="262.20" x2="429.20" y2="262.20" stroke="#2a2a2a" stroke-width="1.3" />
<line x1="457.30" y1="234.80" x2="457.30" y2="281.80" stroke="#505050" stroke-width="1.3" />
<line x1="455.90" y1="234.80" x2="458.70" y2="234.80" stroke="#2a2a2a" stroke-width="1.3" />
<line x1="455.90" y1="281.80" x2="458.70" y2="281.80" stroke="#2a2a2a" stroke-width="1.3" />
<line x1="486.30" y1="255.90" x2="486.30" y2="290.50" stroke="#505050" stroke-width="1.3" />
<line x1="484.90" y1="255.90" x2="487.70" y2="255.90" stroke="#2a2a2a" stroke-width="1.3" />
<line x1="484.90" y1="290.50" x2="487.70" y2="290.50" stroke="#2a2a2a" stroke-width="1.3" />
<polyline points="398.50,215.60 457.30,246.00 486.30,268.00" fill="none" stroke="#000" stroke-width="1.6" stroke-linejoin="round"/>
<polyline points="398.50,230.20 427.80,243.60 457.30,262.30 486.30,273.20" fill="none" stroke="#000" stroke-width="2.2" stroke-linejoin="round"/>
<path d="M398.50,213.00 L401.10,215.60 L398.50,218.20 L395.90,215.60 Z" fill="#fff" stroke="#000" stroke-width="1"/>
<path d="M457.30,243.40 L459.90,246.00 L457.30,248.60 L454.70,246.00 Z" fill="#fff" stroke="#000" stroke-width="1"/>
<path d="M486.30,265.40 L488.90,268.00 L486.30,270.60 L483.70,268.00 Z" fill="#fff" stroke="#000" stroke-width="1"/>
<circle cx="398.50" cy="230.20" r="1.95" fill="#000" stroke="#000" stroke-width="1.0"/>
<circle cx="427.80" cy="243.60" r="1.95" fill="#000" stroke="#000" stroke-width="1.0"/>
<circle cx="457.30" cy="262.30" r="1.95" fill="#000" stroke="#000" stroke-width="1.0"/>
<circle cx="486.30" cy="273.20" r="1.95" fill="#000" stroke="#000" stroke-width="1.0"/>
<rect x="375.80" y="193.50" width="133.80" height="101.00" fill="none" stroke="#303030" stroke-width="1.35"/>
<line x1="433.40" y1="204.20" x2="445.40" y2="204.20" stroke="#000" stroke-width="1.6" />
<circle cx="439.00" cy="204.20" r="1.95" fill="#000" stroke="#000" stroke-width="1.0"/>
<line x1="433.40" y1="215.20" x2="445.40" y2="215.20" stroke="#000" stroke-width="1.2" />
<path d="M439.00,212.60 L441.60,215.20 L439.00,217.80 L436.40,215.20 Z" fill="#fff" stroke="#000" stroke-width="1"/>
<text x="452.30" y="207.00" font-size="6.9" font-weight="bold" text-anchor="start" textLength="14.97" lengthAdjust="spacingAndGlyphs" stroke="#000" stroke-width="0.2">CD3</text>
<line x1="467.70" y1="203.00" x2="469.50" y2="203.00" stroke="#000" stroke-width="0.8" />
<line x1="468.60" y1="202.10" x2="468.60" y2="203.90" stroke="#000" stroke-width="0.8" />
<text x="470.50" y="207.00" font-size="6.9" font-weight="bold" text-anchor="start" textLength="15.04" lengthAdjust="spacingAndGlyphs" stroke="#000" stroke-width="0.2">CD4</text>
<line x1="486.00" y1="203.00" x2="487.80" y2="203.00" stroke="#000" stroke-width="0.8" />
<line x1="486.90" y1="202.10" x2="486.90" y2="203.90" stroke="#000" stroke-width="0.8" />
<text x="488.72" y="207.00" font-size="6.9" font-weight="bold" text-anchor="start" textLength="14.10" lengthAdjust="spacingAndGlyphs" stroke="#000" stroke-width="0.2">CD8</text>
<line x1="503.00" y1="202.60" x2="504.60" y2="202.60" stroke="#000" stroke-width="0.8" />
<text x="452.30" y="218.00" font-size="6.9" font-weight="bold" text-anchor="start" textLength="14.97" lengthAdjust="spacingAndGlyphs" stroke="#000" stroke-width="0.2">CD3</text>
<line x1="467.70" y1="214.00" x2="469.50" y2="214.00" stroke="#000" stroke-width="0.8" />
<line x1="468.60" y1="213.10" x2="468.60" y2="214.90" stroke="#000" stroke-width="0.8" />
<text x="470.51" y="218.00" font-size="6.9" font-weight="bold" text-anchor="start" textLength="14.48" lengthAdjust="spacingAndGlyphs" stroke="#000" stroke-width="0.2">CD7</text>
<line x1="485.40" y1="214.00" x2="487.20" y2="214.00" stroke="#000" stroke-width="0.8" />
<line x1="486.30" y1="213.10" x2="486.30" y2="214.90" stroke="#000" stroke-width="0.8" />
<text transform="translate(398.50,305.30) scale(1,1.16)" font-size="7.9" font-weight="bold" text-anchor="middle" stroke="#000" stroke-width="0.3">0</text>
<text transform="translate(427.50,305.30) scale(1,1.16)" font-size="7.9" font-weight="bold" text-anchor="middle" stroke="#000" stroke-width="0.3">21</text>
<text transform="translate(457.70,305.30) scale(1,1.16)" font-size="7.9" font-weight="bold" text-anchor="middle" stroke="#000" stroke-width="0.3">116</text>
<text transform="translate(486.80,305.30) scale(1,1.16)" font-size="7.9" font-weight="bold" text-anchor="middle" stroke="#000" stroke-width="0.3">208</text>
<text x="363.14" y="317.70" font-size="8.0" font-weight="bold" text-anchor="start" textLength="157.06" lengthAdjust="spacingAndGlyphs" stroke="#000" stroke-width="0.25">Days after SIVmac251 inoculation to macaques</text>
</svg>
</body></html>
